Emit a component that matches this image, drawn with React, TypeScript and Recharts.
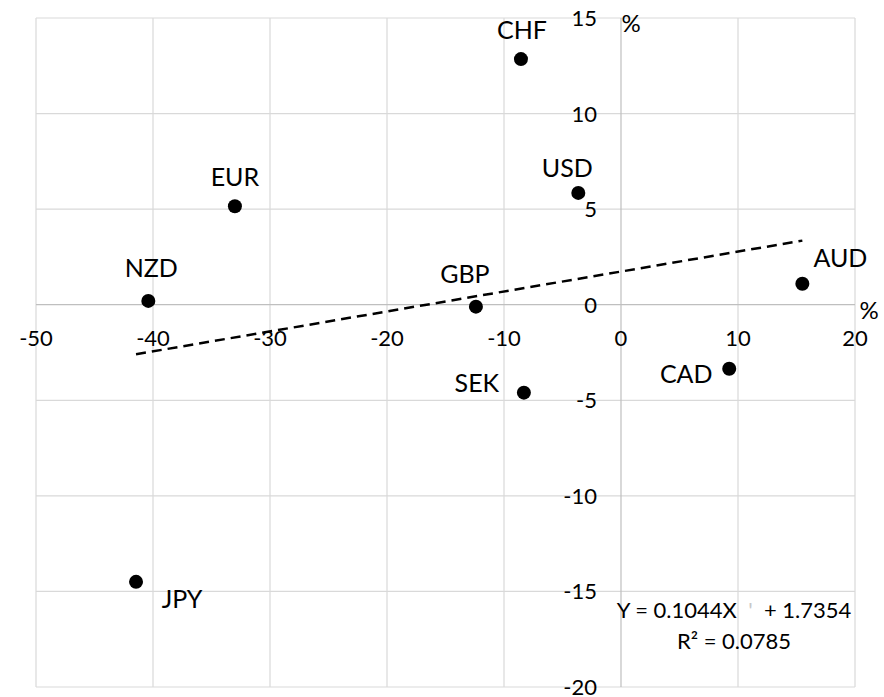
import React from 'react';
import { ScatterChart, Scatter, XAxis, YAxis, ReferenceLine, ReferenceDot } from 'recharts';

const currencies = ['CHF', 'USD', 'EUR', 'NZD', 'GBP', 'AUD', 'CAD', 'SEK', 'JPY'];
const xValues = [-8.55, -3.65, -33.0, -40.4, -12.4, 15.5, 9.25, -8.3, -41.45];
const yValues = [12.85, 5.85, 5.15, 0.2, -0.1, 1.1, -3.35, -4.6, -14.5];
const xTicks = [-50, -40, -30, -20, -10, 0, 10, 20];
const yTicks = [-20, -15, -10, -5, 0, 5, 10, 15];
const slope = 0.1044;
const intercept = 1.7354;
const rSquared = 0.0785;

const data = currencies.map((name, i) => ({ name, x: xValues[i], y: yValues[i] }));
const xMin = Math.min(...xValues);
const xMax = Math.max(...xValues);
const trendSegment = [
  { x: xMin, y: slope * xMin + intercept },
  { x: xMax, y: slope * xMax + intercept },
];

// label placement relative to the marker (style only)
const labelOffset: Record<string, [number, number]> = {
  CHF: [1, -20],
  USD: [-11, -16],
  EUR: [0, -20],
  NZD: [3, -24],
  GBP: [-11, -24],
  AUD: [38, -17],
  CAD: [-43, 14],
  SEK: [-47, -1],
  JPY: [46, 26],
};

const FONT = 'Lato, "Open Sans", sans-serif';
const GRID = '#d9d9d9';
const AXIS = '#bfbfbf';

const PointShape = (props: any) => {
  const { cx, cy, payload } = props;
  const [dx, dy] = labelOffset[payload.name] || [0, -20];
  return (
    <g>
      <circle cx={cx} cy={cy} r={7} fill="#000" />
      <text x={cx + dx} y={cy + dy} textAnchor="middle" fontFamily={FONT} fontSize={25} fill="#000">
        {payload.name}
      </text>
    </g>
  );
};

export default function App() {
  return (
    <div style={{ width: 884, height: 697 }}>
      <style>{`html, body { margin: 0; padding: 0; }`}</style>
      <ScatterChart
        width={884}
        height={697}
        margin={{ top: 18, right: 29, bottom: 10, left: 36 }}
      >
        <XAxis type="number" dataKey="x" domain={[-50, 20]} ticks={xTicks} hide />
        <YAxis type="number" dataKey="y" domain={[-20, 15]} ticks={yTicks} hide />
        {xTicks.filter((v) => v !== 0).map((v) => (
          <ReferenceLine key={'gx' + v} x={v} stroke={GRID} strokeWidth={1.2} />
        ))}
        {yTicks.filter((v) => v !== 0).map((v) => (
          <ReferenceLine key={'gy' + v} y={v} stroke={GRID} strokeWidth={1.2} />
        ))}
        <ReferenceLine x={0} stroke={AXIS} strokeWidth={1.2} />
        <ReferenceLine y={0} stroke={AXIS} strokeWidth={1.2} />
        {xTicks.map((v) => (
          <ReferenceDot
            key={'tx' + v}
            x={v}
            y={0}
            r={0}
            shape={(p: any) => (
              <text x={p.cx} y={p.cy + 41} textAnchor="middle" fontFamily={FONT} fontSize={22} fill="#000">
                {v}
              </text>
            )}
          />
        ))}
        {yTicks.map((v) => (
          <ReferenceDot
            key={'ty' + v}
            x={0}
            y={v}
            r={0}
            shape={(p: any) => (
              <text x={p.cx - 24} y={p.cy + 8} textAnchor="end" fontFamily={FONT} fontSize={22} fill="#000">
                {v}
              </text>
            )}
          />
        ))}
        <ReferenceDot
          x={0}
          y={15}
          r={0}
          shape={(p: any) => (
            <text x={p.cx + 10} y={p.cy + 14} textAnchor="middle" fontFamily={FONT} fontSize={24} fill="#000">
              %
            </text>
          )}
        />
        <ReferenceDot
          x={20}
          y={0}
          r={0}
          shape={(p: any) => (
            <text x={p.cx + 14} y={p.cy + 14} textAnchor="middle" fontFamily={FONT} fontSize={24} fill="#000">
              %
            </text>
          )}
        />
        <ReferenceLine
          segment={trendSegment}
          stroke="#000"
          strokeWidth={2.5}
          strokeDasharray="10 6"
        />
        <Scatter data={data} shape={PointShape} isAnimationActive={false} />
        <ReferenceDot
          x={10}
          y={-15}
          r={0}
          shape={(p: any) => (
            <g fontFamily={FONT} fontSize={22} fill="#000">
              <text x={p.cx - 4} y={p.cy + 27} textAnchor="middle" style={{ whiteSpace: 'pre' }}>
                {`Y = ${slope}X  `}
                <tspan fill="#c8c8c8">'</tspan>
                {`  + ${intercept}`}
              </text>
              <text x={p.cx - 4} y={p.cy + 58} textAnchor="middle">
                {`R² = ${rSquared}`}
              </text>
            </g>
          )}
        />
      </ScatterChart>
    </div>
  );
}
